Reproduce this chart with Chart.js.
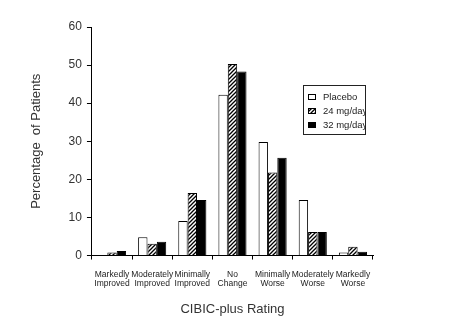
<!DOCTYPE html>
<html>
<head>
<meta charset="utf-8">
<script src="https://cdn.jsdelivr.net/npm/chart.js@4.4.1/dist/chart.umd.min.js"></script>
<style>
  html, body { margin: 0; padding: 0; background: #fff; }
  #wrap { width: 457px; height: 328px; position: relative; }
</style>
</head>
<body>
<div id="wrap"><canvas id="chart" width="457" height="328"></canvas></div>
<script>
// Categorías y valores
const categorias = [
    ['Markedly', 'Improved'], ['Moderately', 'Improved'], ['Minimally', 'Improved'],
    ['No', 'Change'], ['Minimally', 'Worse'], ['Moderately', 'Worse'], ['Markedly', 'Worse']
];
const placebo = [0, 4.8, 9.1, 42.2, 29.8, 14.6, 0.8];
const dosis24 = [0.8, 3.1, 16.4, 50.3, 21.8, 6.2, 2.3];
const dosis32 = [1.2, 3.6, 14.6, 48.3, 25.7, 6.2, 1.0];
const nombresSeries = ['Placebo', '24 mg/day', '32 mg/day'];

const FUENTE = '"Liberation Sans", Arial, sans-serif';

// Patrón de rayas diagonales para la serie de 24 mg/day
function patronRayado() {
    const c = document.createElement('canvas');
    c.width = 4; c.height = 4;
    const g = c.getContext('2d');
    g.fillStyle = '#fff';
    g.fillRect(0, 0, 4, 4);
    g.strokeStyle = '#000';
    g.lineWidth = 1.3;
    g.beginPath();
    g.moveTo(0, 4); g.lineTo(4, 0);
    g.moveTo(-1, 1); g.lineTo(1, -1);
    g.moveTo(3, 5); g.lineTo(5, 3);
    g.stroke();
    return g.createPattern(c, 'repeat');
}

const rayado = patronRayado();

// Leyenda dibujada dentro del área del gráfico
const leyendaCaja = {
    id: 'leyendaCaja',
    afterDraw(chart) {
        const ctx = chart.ctx;
        const x = 303, y = 85, w = 62, h = 49;
        ctx.save();
        ctx.fillStyle = '#fff';
        ctx.fillRect(x, y, w, h);
        ctx.strokeStyle = '#222';
        ctx.lineWidth = 1;
        ctx.strokeRect(x + 0.5, y + 0.5, w, h);
        ctx.beginPath();
        ctx.rect(x, y, w, h);
        ctx.clip();
        ctx.font = '9.5px ' + FUENTE;
        ctx.textBaseline = 'middle';
        chart.data.datasets.forEach((ds, i) => {
            const fy = y + 12 + i * 14;
            ctx.fillStyle = ds.backgroundColor;
            ctx.fillRect(x + 5, fy - 3, 8, 6);
            ctx.strokeStyle = '#000';
            ctx.strokeRect(x + 5.5, fy - 2.5, 7, 5);
            ctx.fillStyle = '#222';
            ctx.fillText(ds.label, x + 20, fy);
        });
        ctx.restore();
    }
};

new Chart(document.getElementById('chart'), {
    type: 'bar',
    data: {
        labels: categorias,
        datasets: [
            { label: nombresSeries[0], data: placebo, backgroundColor: '#fff', borderColor: '#000', borderWidth: 1 },
            { label: nombresSeries[1], data: dosis24, backgroundColor: rayado, borderColor: '#000', borderWidth: 1 },
            { label: nombresSeries[2], data: dosis32, backgroundColor: '#000', borderColor: '#000', borderWidth: 1 }
        ]
    },
    options: {
        responsive: false,
        animation: false,
        layout: { padding: { top: 27, right: 84, left: 29, bottom: 7 } },
        datasets: { bar: { categoryPercentage: 0.7, barPercentage: 1.0 } },
        plugins: {
            legend: { display: false },
            tooltip: { enabled: false }
        },
        scales: {
            x: {
                grid: { offset: true, drawOnChartArea: false, drawTicks: true, tickLength: 4, color: '#000' },
                border: { color: '#000' },
                ticks: { color: '#222', font: { family: FUENTE, size: 8.5, lineHeight: 1.05 }, maxRotation: 0, autoSkip: false, padding: 11 },
                title: { display: true, text: 'CIBIC-plus Rating', color: '#333', font: { family: FUENTE, size: 13 }, padding: { top: 2, bottom: 4 } }
            },
            y: {
                min: 0, max: 60,
                ticks: { stepSize: 10, color: '#333', font: { family: FUENTE, size: 12 }, padding: 5 },
                grid: { drawOnChartArea: false, drawTicks: true, tickLength: 5, color: '#000' },
                border: { color: '#000' },
                title: { display: true, text: 'Percentage  of Patients', color: '#333', font: { family: FUENTE, size: 13 }, padding: { top: 0, bottom: 19 } }
            }
        }
    },
    plugins: [leyendaCaja]
});
</script>
</body>
</html>
